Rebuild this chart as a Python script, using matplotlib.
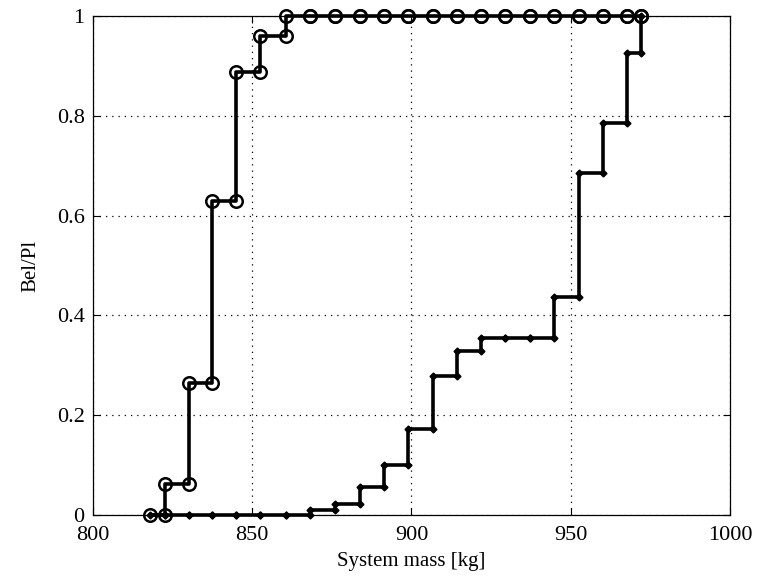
import numpy as np
import matplotlib
matplotlib.use("Agg")
import matplotlib.pyplot as plt

# mass levels (kg) where the cumulative curves change
mass = [818.0, 822.6, 830.0, 837.5, 845.0, 852.5, 860.5, 868.2, 876.0, 883.7,
        891.3, 899.0, 906.6, 914.2, 921.8, 929.5, 937.3, 944.8, 952.6, 960.0,
        967.7, 972.2]
# plausibility (upper curve, circles)
pl = [0.0, 0.063, 0.265, 0.63, 0.887, 0.96, 1.0, 1.0, 1.0, 1.0,
      1.0, 1.0, 1.0, 1.0, 1.0, 1.0, 1.0, 1.0, 1.0, 1.0,
      1.0, 1.0]
# belief (lower curve)
bel = [0.0, 0.0, 0.0, 0.0, 0.0, 0.0, 0.0, 0.01, 0.023, 0.057,
       0.10, 0.172, 0.278, 0.329, 0.354, 0.354, 0.354, 0.436, 0.686, 0.786,
       0.925, 1.0]

xticks = [800, 850, 900, 950, 1000]
yticks = [0, 0.2, 0.4, 0.6, 0.8, 1]
ytick_labels = ["0", "0.2", "0.4", "0.6", "0.8", "1"]


def stair_vertices(x, y):
    x = np.asarray(x)
    y = np.asarray(y)
    xs = np.repeat(x, 2)[1:]
    ys = np.repeat(y, 2)[:-1]
    return xs, ys


plt.rcParams['font.family'] = ['Liberation Serif', 'DejaVu Serif']
plt.rcParams['font.size'] = 15

fig = plt.figure(figsize=(7.63, 5.81), dpi=100)
ax = fig.add_axes([0.1219, 0.1136, 0.8348, 0.8589])

xs, ys = stair_vertices(mass, bel)
ax.plot(xs, ys, color='k', lw=2.6, marker='D', ms=3.5, mfc='k', mec='k',
        zorder=3, clip_on=False)

xs, ys = stair_vertices(mass, pl)
ax.plot(xs, ys, color='k', lw=2.6, marker='o', ms=9, mfc='none', mec='k',
        mew=1.8, zorder=4, clip_on=False)

ax.set_xlim(800, 1000)
ax.set_ylim(0, 1)
ax.set_xticks(xticks)
ax.set_yticks(yticks)
ax.set_yticklabels(ytick_labels, fontsize=16)
ax.set_xticklabels([str(t) for t in xticks], fontsize=16)
ax.grid(True, color='k', linestyle=(0, (1, 4)), lw=0.9)
ax.tick_params(direction='in', top=True, right=True, length=5, width=0.8)
ax.tick_params(axis='x', pad=8)
ax.tick_params(axis='y', pad=6)
for s in ax.spines.values():
    s.set_linewidth(0.9)

ax.set_xlabel("System mass [kg]", labelpad=5)
ax.set_ylabel("Bel/Pl", labelpad=12)

fig.savefig("out.png", dpi=100)
